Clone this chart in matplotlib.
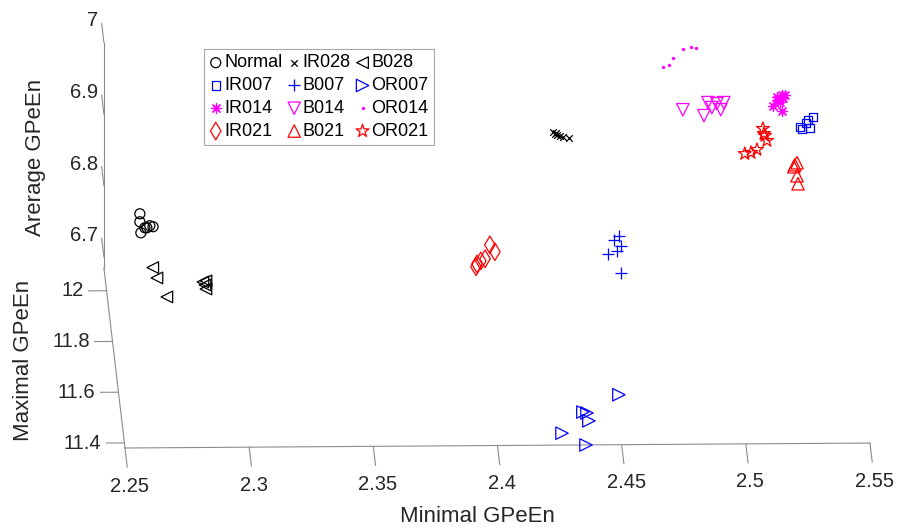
import numpy as np
import matplotlib
matplotlib.use("Agg")
import matplotlib.pyplot as plt
from mpl_toolkits.mplot3d import proj3d

plt.rcParams['font.family'] = ['Liberation Sans', 'DejaVu Sans']

W, H = 917, 528
TXT = '#262626'
AXC = '#8c8c8c'
MAG = '#ff00ff'

# axis limits / ticks
x_lim = (2.25, 2.55)
y_lim = (11.38, 12.09)
z_lim = (6.685, 7.0)
x_ticks = [2.25, 2.3, 2.35, 2.4, 2.45, 2.5, 2.55]
y_ticks = [11.4, 11.6, 11.8, 12]
z_ticks = [6.7, 6.8, 6.9, 7]
x_ticklabels = ['2.25', '2.3', '2.35', '2.4', '2.45', '2.5', '2.55']
y_ticklabels = ['11.4', '11.6', '11.8', '12']
z_ticklabels = ['6.7', '6.8', '6.9', '7']

# data: x = Minimal, y = Maximal, z = Average GPeEn
normal_x = [2.2640, 2.2640, 2.2644, 2.2668, 2.2680, 2.2693, 2.2660]
normal_y = [12.05, 12.05, 12.05, 12.05, 12.05, 12.05, 12.05]
normal_z = [6.7745, 6.7633, 6.7479, 6.7549, 6.7577, 6.7563, 6.7549]

ir028_x = [2.4301, 2.4309, 2.4317, 2.4329, 2.4341, 2.4365, 2.4313]
ir028_y = [12.03, 12.03, 12.03, 12.03, 12.03, 12.03, 12.03]
ir028_z = [6.8925, 6.8897, 6.8883, 6.8869, 6.8855, 6.8841, 6.8911]

b028_x = [2.2695, 2.2707, 2.2738, 2.2890, 2.2903, 2.2899, 2.2897]
b028_y = [12.076, 12.035, 11.960, 12.018, 12.022, 11.990, 12.006]
b028_z = [6.69, 6.69, 6.69, 6.69, 6.69, 6.69, 6.69]

ir007_x = [2.5294, 2.5302, 2.5327, 2.5347, 2.5335, 2.5319]
ir007_y = [12.02, 12.02, 12.02, 12.02, 12.02, 12.02]
ir007_z = [6.9007, 6.8979, 6.9105, 6.9147, 6.8993, 6.9063]

b007_x = [2.4572, 2.4550, 2.4575, 2.4557, 2.4519, 2.4563]
b007_y = [12.076, 12.060, 12.036, 12.017, 12.005, 11.930]
b007_z = [6.73, 6.73, 6.73, 6.73, 6.73, 6.73]

or007_x = [2.4512, 2.4359, 2.4375, 2.4379, 2.4265, 2.4356]
or007_y = [11.574, 11.507, 11.503, 11.472, 11.424, 11.377]
or007_z = [6.686, 6.686, 6.686, 6.686, 6.686, 6.686]

ir014_x = [2.5189, 2.5205, 2.5225, 2.5237, 2.5217, 2.5225, 2.5229, 2.5205]
ir014_y = [12.05, 12.05, 12.05, 12.05, 12.05, 12.05, 12.05, 12.05]
ir014_z = [6.9196, 6.9322, 6.9350, 6.9350, 6.9252, 6.9126, 6.9308, 6.9280]

b014_x = [2.4824, 2.4909, 2.4925, 2.4941, 2.4977, 2.4989, 2.4961]
b014_y = [12.03, 12.03, 12.03, 12.03, 12.03, 12.03, 12.03]
b014_z = [6.9219, 6.9135, 6.9317, 6.9247, 6.9217, 6.9315, 6.9301]

or014_x = [2.4750, 2.4774, 2.4790, 2.4830, 2.4863, 2.4883]
or014_y = [12.08, 12.08, 12.08, 12.08, 12.08, 12.08]
or014_z = [6.9646, 6.9674, 6.9772, 6.9884, 6.9912, 6.9909]

ir021_x = [2.3991, 2.4008, 2.4026, 2.4052, 2.4069, 2.3986]
ir021_y = [11.997, 12.009, 12.017, 12.072, 12.045, 11.986]
ir021_z = [6.72, 6.72, 6.72, 6.72, 6.72, 6.72]

b021_x = [2.5269, 2.5278, 2.5265, 2.5278, 2.5282]
b021_y = [11.98, 11.98, 11.98, 11.98, 11.98]
b021_z = [6.8618, 6.8646, 6.8590, 6.8464, 6.8352]

or021_x = [2.5143, 2.5147, 2.5159, 2.5070, 2.5095, 2.5119, 2.5151]
or021_y = [12.00, 12.00, 12.00, 12.00, 12.00, 12.00, 12.00]
or021_z = [6.9054, 6.8984, 6.8886, 6.8705, 6.8719, 6.8761, 6.8956]

fig = plt.figure(figsize=(W / 100, H / 100), dpi=100)
ax = fig.add_axes([0, 0, 1, 1], projection='3d', proj_type='ortho')
ax.set_xlim(*x_lim)
ax.set_ylim(*y_lim)
ax.set_zlim(*z_lim)
ax.set_box_aspect((745, 755, 232))
ax.view_init(elev=13.8, azim=-91.6)
ax.set_axis_off()

lw = 0.9
hollow = dict(facecolors='none', linewidths=lw, depthshade=False)
line = dict(linewidths=lw, depthshade=False)

h = {}
h['Normal'] = ax.scatter(normal_x, normal_y, normal_z, marker='o', s=52, edgecolors='k', **hollow)
h['IR028'] = ax.scatter(ir028_x, ir028_y, ir028_z, marker='x', s=22, color='k', **line)
h['B028'] = ax.scatter(b028_x, b028_y, b028_z, marker='<', s=70, edgecolors='k', **hollow)
h['IR007'] = ax.scatter(ir007_x, ir007_y, ir007_z, marker='s', s=34, edgecolors='b', **hollow)
h['B007'] = ax.scatter(b007_x, b007_y, b007_z, marker='+', s=64, color='b', **line)
h['OR007'] = ax.scatter(or007_x, or007_y, or007_z, marker='>', s=80, edgecolors='b', **hollow)
h['IR014'] = ax.scatter(ir014_x, ir014_y, ir014_z, marker=(8, 2, 0), s=52, color=MAG, **line)
h['B014'] = ax.scatter(b014_x, b014_y, b014_z, marker='v', s=80, edgecolors=MAG, **hollow)
h['OR014'] = ax.scatter(or014_x, or014_y, or014_z, marker='o', s=6, color=MAG, linewidths=0, depthshade=False)
h['IR021'] = ax.scatter(ir021_x, ir021_y, ir021_z, marker='d', s=80, edgecolors='r', **hollow)
h['B021'] = ax.scatter(b021_x, b021_y, b021_z, marker='^', s=80, edgecolors='r', **hollow)
h['OR021'] = ax.scatter(or021_x, or021_y, or021_z, marker='*', s=95, edgecolors='r', **hollow)

x0, x1 = x_lim
y0, y1 = y_lim
z0, z1 = z_lim

# axis lines like matlab's 3D box (only the three visible edges)
ax.plot([x0, x1], [y0, y0], [z0, z0], color=AXC, lw=0.8)
ax.plot([x0, x0], [y0, y1], [z0, z0], color=AXC, lw=0.8)
ax.plot([x0, x0], [y1, y1], [z0, z1], color=AXC, lw=0.8)

for xv in x_ticks:
    ax.plot([xv, xv], [y0, y0 - 0.075], [z0, z0], color=AXC, lw=0.8)
for yv in y_ticks:
    ax.plot([x0, x0 - 0.0072], [yv, yv], [z0, z0], color=AXC, lw=0.8)
for zv in z_ticks:
    ax.plot([x0, x0], [y1, y1 + 0.075], [zv, zv], color=AXC, lw=0.8)

fig.text(477 / W, 1 - 516 / H, 'Minimal GPeEn', ha='center', va='center', fontsize=16, color=TXT)
fig.text(24 / W, 1 - 360 / H, 'Maximal GPeEn', ha='center', va='center', rotation=90, fontsize=16, color=TXT)
fig.text(36 / W, 1 - 157 / H, 'Arerage GPeEn', ha='center', va='center', rotation=90, fontsize=16, color=TXT)

# legend filled column by column -> reorder so rows read like the original
rows = [['Normal', 'IR028', 'B028'], ['IR007', 'B007', 'OR007'],
        ['IR014', 'B014', 'OR014'], ['IR021', 'B021', 'OR021']]
order = [rows[r][c] for c in range(3) for r in range(4)]
leg = ax.legend([h[k] for k in order], order, ncol=3, loc='upper left',
                bbox_to_anchor=(204 / W, 1 - 49 / H), bbox_transform=fig.transFigure,
                borderaxespad=0, fontsize=13, fancybox=False, framealpha=1,
                edgecolor='#a6a6a6', handlelength=0.7, handletextpad=0.12,
                columnspacing=0.3, labelspacing=0.32, borderpad=0.3, scatterpoints=1)
leg.get_frame().set_linewidth(0.8)
for t in leg.get_texts():
    t.set_color('black')


def project(xs, ys, zs):
    xp, yp, _ = proj3d.proj_transform(np.asarray(xs, float), np.asarray(ys, float),
                                      np.asarray(zs, float), ax.get_proj())
    return ax.transData.transform(np.column_stack([xp, yp]))


# place the 3D box so its corners land where the original's do
t_o = np.array([125.0, H - 448.0])
t_x = np.array([870.0, H - 443.0])
for _ in range(3):
    fig.canvas.draw()
    p_o, p_x = project([x0, x1], [y0, y0], [z0, z0])
    s = np.linalg.norm(t_x - t_o) / np.linalg.norm(p_x - p_o)
    bb = ax.get_position().transformed(fig.transFigure)
    c = np.array([bb.x0 + bb.width / 2, bb.y0 + bb.height / 2])
    c_new = t_o - s * (p_o - c)
    w, hh = bb.width * s, bb.height * s
    ax.set_position([(c_new[0] - w / 2) / W, (c_new[1] - hh / 2) / H, w / W, hh / H])
fig.canvas.draw()

# tick labels as plain 2D texts at the projected tick ends
tfs = 14.5
pts = project(x_ticks, [y0 - 0.15] * len(x_ticks), [z0] * len(x_ticks))
for (px, py), lab in zip(pts, x_ticklabels):
    fig.text(px / W, py / H, lab, ha='center', va='center', fontsize=tfs, color=TXT)
pts = project([x0 - 0.0092] * len(y_ticks), y_ticks, [z0] * len(y_ticks))
for (px, py), lab in zip(pts, y_ticklabels):
    fig.text(px / W, py / H, lab, ha='right', va='center', fontsize=tfs, color=TXT)
pts = project([x0 - 0.0012] * len(z_ticks), [y1 + 0.085] * len(z_ticks), z_ticks)
for (px, py), lab in zip(pts, z_ticklabels):
    fig.text(px / W, py / H, lab, ha='right', va='center', fontsize=tfs, color=TXT)

fig.savefig('out.png', dpi=100)
